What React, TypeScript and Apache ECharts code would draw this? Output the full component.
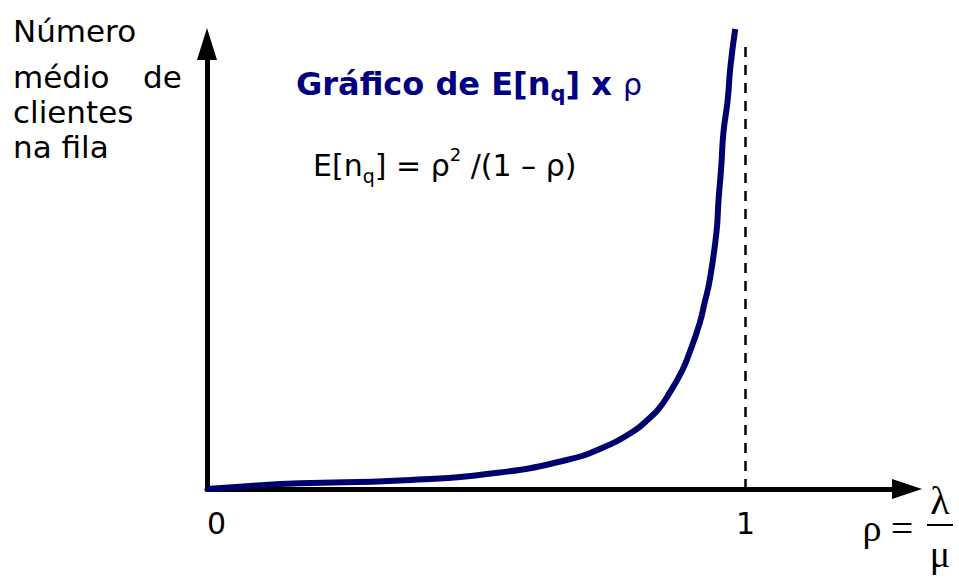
import React, { useEffect, useRef } from "react";
import * as echarts from "echarts";

// Values (rho on x, mean queue length in arbitrary units on y)
const rhoValues = [0, 0.08, 0.173, 0.358, 0.544, 0.668, 0.729, 0.79, 0.822, 0.84, 0.859, 0.883, 0.896, 0.915, 0.924, 0.933, 0.946, 0.95, 0.955, 0.959, 0.967, 0.972, 0.981];
const queueValues = [0, 0.35, 0.64, 0.96, 1.85, 3.26, 4.49, 6.4, 7.98, 9.1, 10.8, 13.37, 15.3, 18.65, 20.9, 23.26, 28.76, 32.47, 36.18, 40.0, 43.71, 47.42, 51.69];
const xTickValues = [0, 1];
const xTickLabels = ["0", "1"];
const yLabelLines = ["Número", "médio", "de", "clientes", "na fila"];
const titleParts = ["Gráfico de E[n", "q", "] x ", "ρ"];
const formulaParts = ["E[n", "q", "] = ρ", "2", " /(1 – ρ)"];
const rhoDefParts = ["ρ", "=", "λ", "μ"];
const asymptote = 1;

const SANS = "'DejaVu Sans', Verdana, sans-serif";
const SERIF = "'Liberation Serif', 'DejaVu Serif', serif";
const NAVY = "#000080";
const CURVE = "#00006e";

function txt(x: number, y: number, text: string, extra: any = {}) {
  return {
    type: "text",
    x,
    y,
    silent: true,
    style: {
      text,
      fontFamily: SANS,
      fontSize: 31,
      fill: "#000",
      align: "left",
      verticalAlign: "middle",
      textAlign: "left",
      textVerticalAlign: "middle",
      ...extra,
    },
  };
}

export default function App() {
  const ref = useRef<HTMLDivElement>(null);

  useEffect(() => {
    if (!ref.current) return;
    const chart = echarts.init(ref.current, undefined, { renderer: "svg" });
    const data = rhoValues.map((r, i) => [r, queueValues[i]]);

    const option: any = {
      animation: false,
      backgroundColor: "#fff",
      grid: { left: 207, top: 44, width: 700, height: 445, containLabel: false },
      xAxis: {
        type: "value",
        min: 0,
        max: 1.3,
        interval: 1,
        axisLine: {
          show: true,
          onZero: false,
          symbol: ["none", "triangle"],
          symbolSize: [20, 30],
          lineStyle: { color: "#000", width: 5 },
        },
        axisTick: { show: false },
        splitLine: { show: false },
        axisLabel: {
          show: true,
          margin: 19,
          fontSize: 30,
          fontFamily: SANS,
          color: "#000",
          alignMinLabel: "left",
          showMaxLabel: false,
          formatter: (v: number) => {
            const i = xTickValues.indexOf(v);
            return i >= 0 ? xTickLabels[i] : "";
          },
        },
      },
      yAxis: {
        type: "value",
        min: 0,
        max: 50,
        axisLine: {
          show: true,
          onZero: false,
          symbol: ["none", "triangle"],
          symbolSize: [20, 32],
          lineStyle: { color: "#000", width: 5 },
        },
        axisTick: { show: false },
        axisLabel: { show: false },
        splitLine: { show: false },
      },
      series: [
        {
          type: "line",
          data,
          clip: false,
          smooth: 0.5,
          showSymbol: false,
          symbol: "none",
          z: 5,
          lineStyle: { color: CURVE, width: 6 },
          markLine: {
            silent: true,
            symbol: ["none", "none"],
            label: { show: false },
            lineStyle: { color: "#000", width: 2.5, type: [10, 8] },
            data: [{ xAxis: asymptote }],
          },
        },
      ],
      graphic: [
        // y-axis description
        txt(13, 31, yLabelLines[0]),
        txt(13, 77, yLabelLines[1]),
        txt(143, 77, yLabelLines[2]),
        txt(13, 112, yLabelLines[3]),
        txt(13, 147, yLabelLines[4]),
        // title
        {
          type: "text",
          x: 296,
          y: 64,
          silent: true,
          style: {
            text: `{b|${titleParts[0]}}{s|${titleParts[1]}}{b|${titleParts[2]}}{r|${titleParts[3]}}`,
            align: "left",
            verticalAlign: "top",
            textAlign: "left",
            textVerticalAlign: "top",
            rich: {
              b: { fontSize: 32, fontWeight: "bold", fontFamily: SANS, fill: NAVY, lineHeight: 40 },
              s: { fontSize: 21, fontWeight: "bold", fontFamily: SANS, fill: NAVY, lineHeight: 24, verticalAlign: "bottom" },
              r: { fontSize: 30, fontWeight: "normal", fontFamily: SANS, fill: NAVY, lineHeight: 40 },
            },
          },
        },
        // formula
        {
          type: "text",
          x: 313,
          y: 145,
          silent: true,
          style: {
            text: `{m|${formulaParts[0]}}{q|${formulaParts[1]}}{m|${formulaParts[2]}}{p|${formulaParts[3]}}{m|${formulaParts[4]}}`,
            align: "left",
            verticalAlign: "top",
            textAlign: "left",
            textVerticalAlign: "top",
            rich: {
              m: { fontSize: 30, fontFamily: SANS, fill: "#000", lineHeight: 40 },
              q: { fontSize: 19, fontFamily: SANS, fill: "#000", lineHeight: 24, verticalAlign: "bottom" },
              p: { fontSize: 18, fontFamily: SANS, fill: "#000", lineHeight: 32, verticalAlign: "top" },
            },
          },
        },
        // rho = lambda / mu
        txt(872, 528, rhoDefParts[0], { fontFamily: SERIF, fontSize: 38, align: "center", textAlign: "center" }),
        txt(902, 528, rhoDefParts[1], { fontFamily: SERIF, fontSize: 40, align: "center", textAlign: "center" }),
        txt(940, 500, rhoDefParts[2], { fontFamily: SERIF, fontSize: 40, align: "center", textAlign: "center" }),
        txt(940, 554, rhoDefParts[3], { fontFamily: SERIF, fontSize: 38, align: "center", textAlign: "center" }),
        {
          type: "line",
          silent: true,
          shape: { x1: 927, y1: 525, x2: 953, y2: 525 },
          style: { stroke: "#000", lineWidth: 2 },
        },
      ],
    };

    chart.setOption(option);
    return () => chart.dispose();
  }, []);

  return (
    <div
      ref={ref}
      style={{ position: "fixed", left: 0, top: 0, width: 959, height: 577, background: "#fff" }}
    />
  );
}
